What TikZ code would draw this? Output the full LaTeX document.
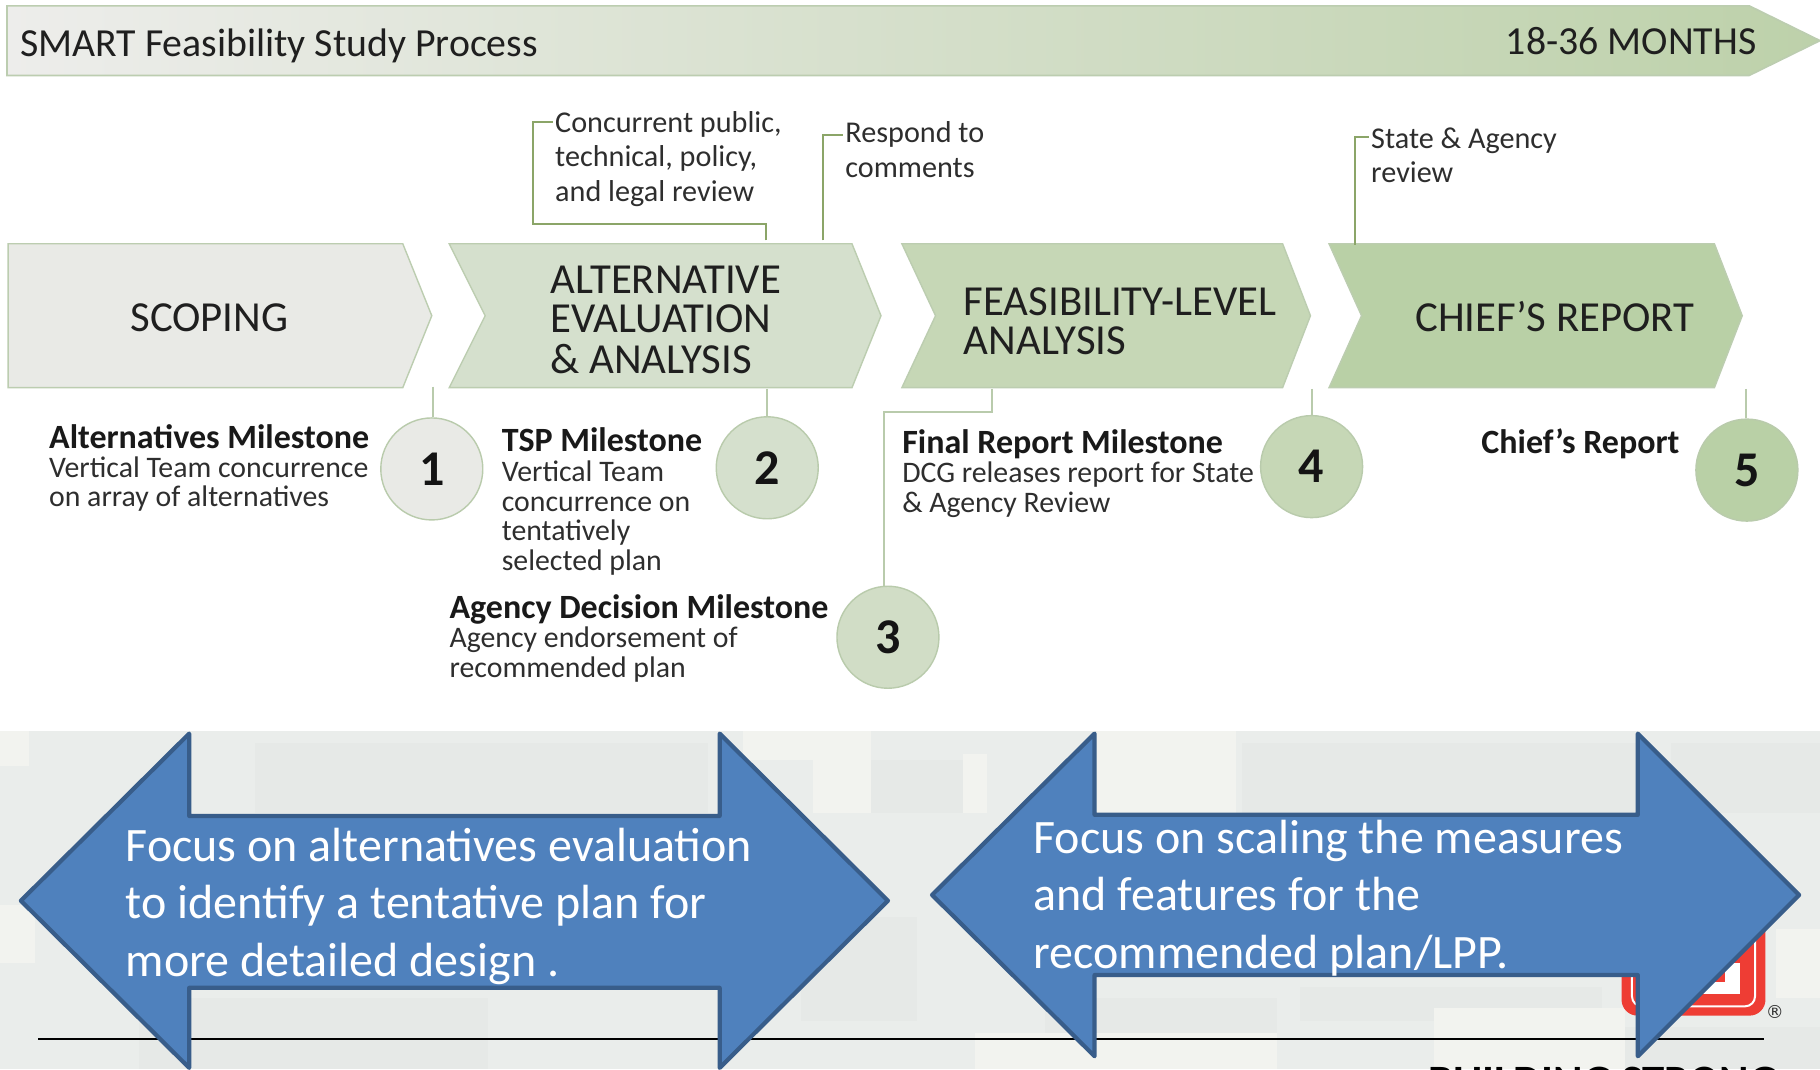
\documentclass[tikz,border=0pt]{standalone}
\usepackage{fontspec}
\setmainfont{Carlito}
\newfontfamily\symfont{DejaVu Sans}
\newcommand{\fs}[2]{\fontsize{#1pt}{#2pt}\selectfont}
\tikzset{
 x=0.58036pt,y=-0.58036pt,
 chevtxt/.style={inner sep=0pt,anchor=base west,align=left,font=\fs{21.4}{18.8},text=black!88},
 lead/.style={draw=leadgreen,line width=1pt},
 drop/.style={draw=dropgreen,line width=1pt},
 num/.style={circle,minimum size=51pt,inner sep=0pt,line width=0.7pt,draw=dropgreen,font=\fs{25}{25}\bfseries,text=black!92},
 ttl/.style={inner sep=0pt,anchor=base west,font=\fs{17}{17}\bfseries,text=black!90},
 body/.style={inner sep=0pt,anchor=base west,font=\fs{14.9}{14.8},text=black!82},
 note/.style={inner sep=0pt,anchor=base west,font=\fs{15.1}{17.2},text=black!82},
 bigarrow/.style={fill=arrowblue,draw=arrowedge,line width=2.1pt,line join=round},
 bigtxt/.style={inner sep=0pt,anchor=base west,font=\fs{24}{28.8},text=white},
 patch/.style={fill=patchgrey,draw=none},
 patchl/.style={fill=patchlight,draw=none},
}
\definecolor{arrowblue}{HTML}{4F81BD}
\definecolor{arrowedge}{HTML}{385D8A}
\definecolor{leadgreen}{HTML}{8BA568}
\definecolor{dropgreen}{HTML}{B9CBAC}
\definecolor{bggrey}{HTML}{EAEDEB}
\definecolor{patchgrey}{HTML}{E6E9E7}
\definecolor{patchlight}{HTML}{F2F3EF}
\definecolor{bannerL}{HTML}{EDEDEB}
\definecolor{bannerR}{HTML}{BDD1AA}
\definecolor{cA}{HTML}{E9EAE6}
\definecolor{cB}{HTML}{D5E0CD}
\definecolor{cC}{HTML}{C6D7B6}
\definecolor{cD}{HTML}{B9D0A6}
\definecolor{edgeG}{HTML}{BCCDB0}
\definecolor{logored}{HTML}{EE3D34}
\newcommand{\rows}[1]{\begin{tabular}[t]{@{}l@{}}#1\end{tabular}}
\begin{document}
\begin{tikzpicture}
\useasboundingbox (0,0) rectangle (1568,921);
\clip (0,0) rectangle (1568,921);
\fill[white] (0,0) rectangle (1568,921);
% lower background
\fill[bggrey] (0,630) rectangle (1568,921);
\foreach \a/\b/\c/\d in {220/640/610/700,750/655/830/700,1070/640/1410/700,1440/640/1568/700,
  120/860/420/921,690/790/790/880,900/860/1100/890,1120/850/1380/880,1400/885/1568/921}
  {\fill[patch] (\a,\b) rectangle (\c,\d);}
\foreach \a/\b/\c/\d in {0/630/25/660,0/780/30/830,640/630/750/655,700/655/750/700,830/650/850/700,945/630/1065/700,
  1235/868/1400/921,840/890/1100/921,1530/800/1568/860}
  {\fill[patchl] (\a,\b) rectangle (\c,\d);}
% banner
\path[left color=bannerL,right color=bannerR,middle color=bannerR!50!bannerL,draw=edgeG,line width=0.8pt]
  (6,5) -- (1507,5) -- (1568,35) -- (1507,65) -- (6,65) -- cycle;
\node[inner sep=0pt,anchor=base west,font=\fs{19.9}{19.9},text=black!88] (bt) at (17,49) {SMART Feasibility Study Process};
\node[inner sep=0pt,anchor=base west,font=\fs{19.9}{19.9},text=black!88] (bm) at (1297,47) {18-36 MONTHS};
% chevrons
\draw[fill=cA,draw=edgeG,line width=.7pt] (7,210) -- (347,210) -- (372,272) -- (347,334) -- (7,334) -- cycle;
\draw[fill=cB,draw=edgeG,line width=.7pt] (387,210) -- (734,210) -- (759,272) -- (734,334) -- (387,334) -- (418,272) -- cycle;
\draw[fill=cC,draw=edgeG,line width=.7pt] (777,210) -- (1105,210) -- (1129,272) -- (1105,334) -- (777,334) -- (806,272) -- cycle;
\draw[fill=cD,draw=edgeG,line width=.7pt] (1145,210) -- (1477,210) -- (1501,272) -- (1477,334) -- (1145,334) -- (1173,272) -- cycle;
\node[chevtxt] (t1) at (112,286) {SCOPING};
\node[chevtxt] (t2) at (474,253) {\rows{ALTERNATIVE\\EVALUATION\\\& ANALYSIS}};
\node[chevtxt] (t3) at (830,272) {\rows{FEASIBILITY-LEVEL\\ANALYSIS}};
\node[chevtxt] (t4) at (1219,286) {CHIEF’S REPORT};
% connector ends on the chevrons
\coordinate (a1) at (373,333);
\coordinate (a2) at (661,335);
\coordinate (a3) at (855,335);
\coordinate (a4) at (1130,335);
\coordinate (a5) at (1504,335);
\coordinate (b2) at (660,207);
\coordinate (b3) at (709,207);
\coordinate (b4) at (1167,211);
% circles
\node[num,fill=cA] (c1) at (372,404) {1};
\node[num,fill=cB] (c2) at (661,403) {2};
\node[num,fill=cB!70!cC] (c3) at (765,549) {3};
\node[num,fill=cC] (c4) at (1130,402) {4};
\node[num,fill=cD] (c5) at (1505,405) {5};
\draw[drop] (a1) -- (a1 |- c1.north);
\draw[drop] (a2) -- (a2 |- c2.north);
\draw[drop] (a4) -- (a4 |- c4.north);
\draw[drop] (a5) -- (a5 |- c5.north);
\draw[drop] (a3) -- (855,355) -- (762,355) -- (762,505);
% notes
\node[note] (n1) at (478,114) {\rows{Concurrent public,\\technical, policy,\\and legal review}};
\node[note] (n2) at (728,123) {\rows{Respond to\\comments}};
\node[note] (n3) at (1181,128) {\rows{State \& Agency\\review}};
\draw[lead] (b2) -- (660,193) -- (459,193) -- (459,105) -- (476,105);
\draw[lead] (b3) -- (709,116) -- (726,116);
\draw[lead] (b4) -- (1167,118) -- (1179,118);
% milestones
\node[ttl] (m1) at (42,386) {Alternatives Milestone};
\node[body] (d1) at (42,411) {\rows{Vertical Team concurrence\\on array of alternatives}};
\node[ttl] (m2) at (432,389) {TSP Milestone};
\node[body] (d2) at (432,415) {\rows{Vertical Team\\concurrence on\\tentatively\\selected plan}};
\node[ttl] (m3) at (387,533) {Agency Decision Milestone};
\node[body] (d3) at (387,558) {\rows{Agency endorsement of\\recommended plan}};
\node[ttl] (m4) at (777,391) {Final Report Milestone};
\node[body] (d4) at (777,416) {\rows{DCG releases report for State\\\& Agency Review}};
\node[ttl] (m5) at (1276,391) {Chief’s Report};
% footer
\draw[black,line width=0.9pt] (33,895) -- (1520,895);
\fill[logored,rounded corners=8pt] (1397,790) rectangle (1521,875);
\draw[white,line width=1pt,rounded corners=5pt] (1406,790) rectangle (1512,867);
\fill[white] (1462,830) rectangle (1499,856);
\fill[logored] (1476,825) rectangle (1486,846);
\node[inner sep=0pt,font=\fs{9}{9}\symfont,text=black!80] (reg) at (1529,872) {®};
\node[inner sep=0pt,anchor=base west,font=\fs{22.4}{22.4}\bfseries,text=black] (bs) at (1230,945) {BUILDING STRONG};
% double arrows
\draw[bigarrow] (18,776) -- (163,632) -- (163,703) -- (620,703) -- (620,632) -- (765,776) -- (620,920) -- (620,851) -- (163,851) -- (163,920) -- cycle;
\draw[bigarrow] (803,771) -- (943,632) -- (943,702) -- (1411,702) -- (1411,632) -- (1550,771) -- (1411,910) -- (1411,840) -- (943,840) -- (943,910) -- cycle;
\node[bigtxt] (f1) at (108,742) {\rows{Focus on alternatives evaluation\\to identify a tentative plan for\\more detailed design .}};
\node[bigtxt] (f2) at (890,735) {\rows{Focus on scaling the measures\\and features for the\\recommended plan/LPP.}};
\end{tikzpicture}
\end{document}
